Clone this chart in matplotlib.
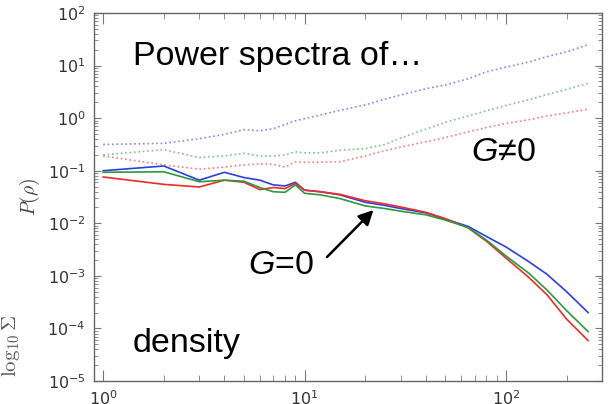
import matplotlib
matplotlib.use("Agg")
import matplotlib.pyplot as plt
from matplotlib.ticker import LogLocator, NullFormatter

# wavenumber bins
k = [1, 2, 3, 4, 5, 6, 7, 8, 9, 10, 12, 15, 20, 25, 30, 40, 50, 65, 80, 100,
     130, 160, 200, 256]

# density power spectra without self-gravity (solid)
p_blue_g0 = [0.100, 0.123, 0.0661, 0.0933, 0.0741, 0.0661, 0.0537, 0.0513,
             0.0603, 0.0427, 0.0398, 0.0347, 0.0251, 0.0219, 0.0191, 0.0158,
             0.0120, 0.00871, 0.00562, 0.00355, 0.00186, 0.00107, 0.000501,
             0.000200]
p_green_g0 = [0.0933, 0.0955, 0.0617, 0.0661, 0.0631, 0.0479, 0.0398, 0.0389,
              0.0537, 0.0372, 0.0347, 0.0295, 0.0214, 0.0191, 0.0170, 0.0145,
              0.0115, 0.00832, 0.00479, 0.00240, 0.00112, 0.000537, 0.000219,
              0.0000871]
p_red_g0 = [0.0759, 0.0550, 0.0490, 0.0661, 0.0603, 0.0437, 0.0479, 0.0457,
            0.0575, 0.0427, 0.0398, 0.0355, 0.0269, 0.0234, 0.0204, 0.0162,
            0.0123, 0.00813, 0.00457, 0.00219, 0.000933, 0.000437, 0.000151,
            0.0000589]

# density power spectra with self-gravity (dotted)
p_blue_g = [0.316, 0.331, 0.407, 0.490, 0.603, 0.575, 0.631, 0.759, 0.891,
            0.977, 1.15, 1.41, 1.78, 2.29, 2.75, 3.63, 4.27, 5.62, 7.59, 9.33,
            11.7, 14.8, 18.2, 25.1]
p_green_g = [0.200, 0.251, 0.178, 0.191, 0.214, 0.191, 0.191, 0.200, 0.229,
             0.219, 0.219, 0.245, 0.263, 0.316, 0.417, 0.617, 0.832, 1.10,
             1.38, 1.74, 2.24, 2.82, 3.55, 4.57]
p_red_g = [0.191, 0.129, 0.107, 0.117, 0.129, 0.135, 0.132, 0.117, 0.148,
           0.145, 0.145, 0.148, 0.191, 0.240, 0.282, 0.355, 0.427, 0.550,
           0.661, 0.794, 0.933, 1.10, 1.26, 1.48]

plt.rcParams["mathtext.fontset"] = "custom"
plt.rcParams["mathtext.rm"] = "Liberation Sans"
plt.rcParams["mathtext.it"] = "Liberation Sans:italic"

W, H = 608, 404
fig = plt.figure(figsize=(W / 100, H / 100), dpi=100)
ax = fig.add_axes([94 / W, 1 - 381 / H, (602 - 94) / W, (381 - 13) / H])

c_blue, c_green, c_red = "#2b3fe0", "#2a9a3a", "#ee2a2a"
ax.plot(k, p_blue_g, ls=":", color=c_blue, lw=1.2, alpha=0.6)
ax.plot(k, p_green_g, ls=":", color=c_green, lw=1.2, alpha=0.6)
ax.plot(k, p_red_g, ls=":", color=c_red, lw=1.2, alpha=0.6)
ax.plot(k, p_blue_g0, ls="-", color=c_blue, lw=1.2)
ax.plot(k, p_red_g0, ls="-", color=c_red, lw=1.2)
ax.plot(k, p_green_g0, ls="-", color=c_green, lw=1.2)

ax.set_xscale("log")
ax.set_yscale("log")
ax.set_xlim(0.9, 300)
ax.set_ylim(1e-5, 1e2)

ax.yaxis.set_major_locator(LogLocator(base=10, numticks=20))
ax.yaxis.set_minor_locator(LogLocator(base=10, subs=range(2, 10), numticks=50))
ax.yaxis.set_minor_formatter(NullFormatter())
ax.xaxis.set_minor_formatter(NullFormatter())

for s in ax.spines.values():
    s.set_color("#666666")
    s.set_linewidth(1.0)

ax.tick_params(which="both", direction="in", top=True, right=True,
               color="#777777", labelcolor="#333333")
ax.tick_params(axis="x", which="major", length=8, width=0.8, labelsize=11.5, pad=6)
ax.tick_params(axis="x", which="minor", length=4, width=0.6)
ax.tick_params(axis="y", which="major", length=5, width=0.8, labelsize=11.5, pad=6)
ax.tick_params(axis="y", which="minor", length=3, width=0.6)

ax.set_ylabel(r"$P(\rho)$", fontsize=14, color="#444444", math_fontfamily="cm",
              labelpad=4)

fig.text(11 / W, 1 - 346 / H, r"$\log_{10}\Sigma$", rotation=90, ha="center",
         va="center", fontsize=15, color="#555555", math_fontfamily="cm")

tfont = dict(family="Liberation Sans", fontsize=24.5, color="black")
fig.text(133 / W, 1 - 65 / H, "Power spectra of…", ha="left", va="baseline", **tfont)
fig.text(471 / W, 1 - 161 / H, "$G$≠0", ha="left", va="baseline",
         math_fontfamily="custom", **tfont)
fig.text(248 / W, 1 - 274 / H, "$G$=0", ha="left", va="baseline",
         math_fontfamily="custom", **tfont)
fig.text(133 / W, 1 - 352 / H, "density", ha="left", va="baseline", **tfont)

fig.patches.append(matplotlib.patches.FancyArrowPatch(
    (327 / W, 1 - 257 / H), (373.5 / W, 1 - 210 / H),
    transform=fig.transFigure, arrowstyle="-|>", mutation_scale=22,
    lw=1.8, color="black", shrinkA=0, shrinkB=0))

fig.savefig("out.png", dpi=100)
